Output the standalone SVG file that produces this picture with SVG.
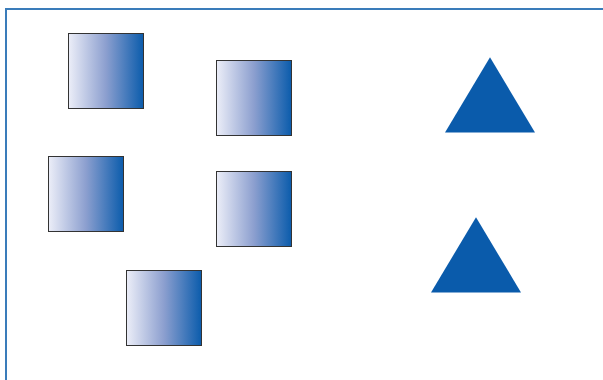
<svg xmlns="http://www.w3.org/2000/svg" width="603" height="380" viewBox="0 0 603 380">
<defs>
<linearGradient id="g" x1="0" y1="0" x2="1" y2="0">
<stop offset="0" stop-color="#eceef8"/>
<stop offset="0.5" stop-color="#8c9fcf"/>
<stop offset="1" stop-color="#0b5cac"/>
</linearGradient>
</defs>
<style>
.sq{fill:url(#g);stroke:#333;stroke-width:1}
.tri{fill:#0a5bab}
.frame{fill:none;stroke:#3a7cba;stroke-width:2}
</style>
<path class="frame" d="M6,380 V9 H603"/>
<g id="square1"><rect class="sq" x="68.5" y="33.5" width="75" height="75"/></g>
<g id="square2"><rect class="sq" x="216.5" y="60.5" width="75" height="75"/></g>
<g id="square3"><rect class="sq" x="48.5" y="156.5" width="75" height="75"/></g>
<g id="square4"><rect class="sq" x="216.5" y="171.5" width="75" height="75"/></g>
<g id="square5"><rect class="sq" x="126.5" y="270.5" width="75" height="75"/></g>
<g id="triangle1"><polygon class="tri" points="490,57.3 445,132.5 535,132.5"/></g>
<g id="triangle2"><polygon class="tri" points="476,217.3 431,292.5 521,292.5"/></g>
<g id="connectors"></g>
</svg>
